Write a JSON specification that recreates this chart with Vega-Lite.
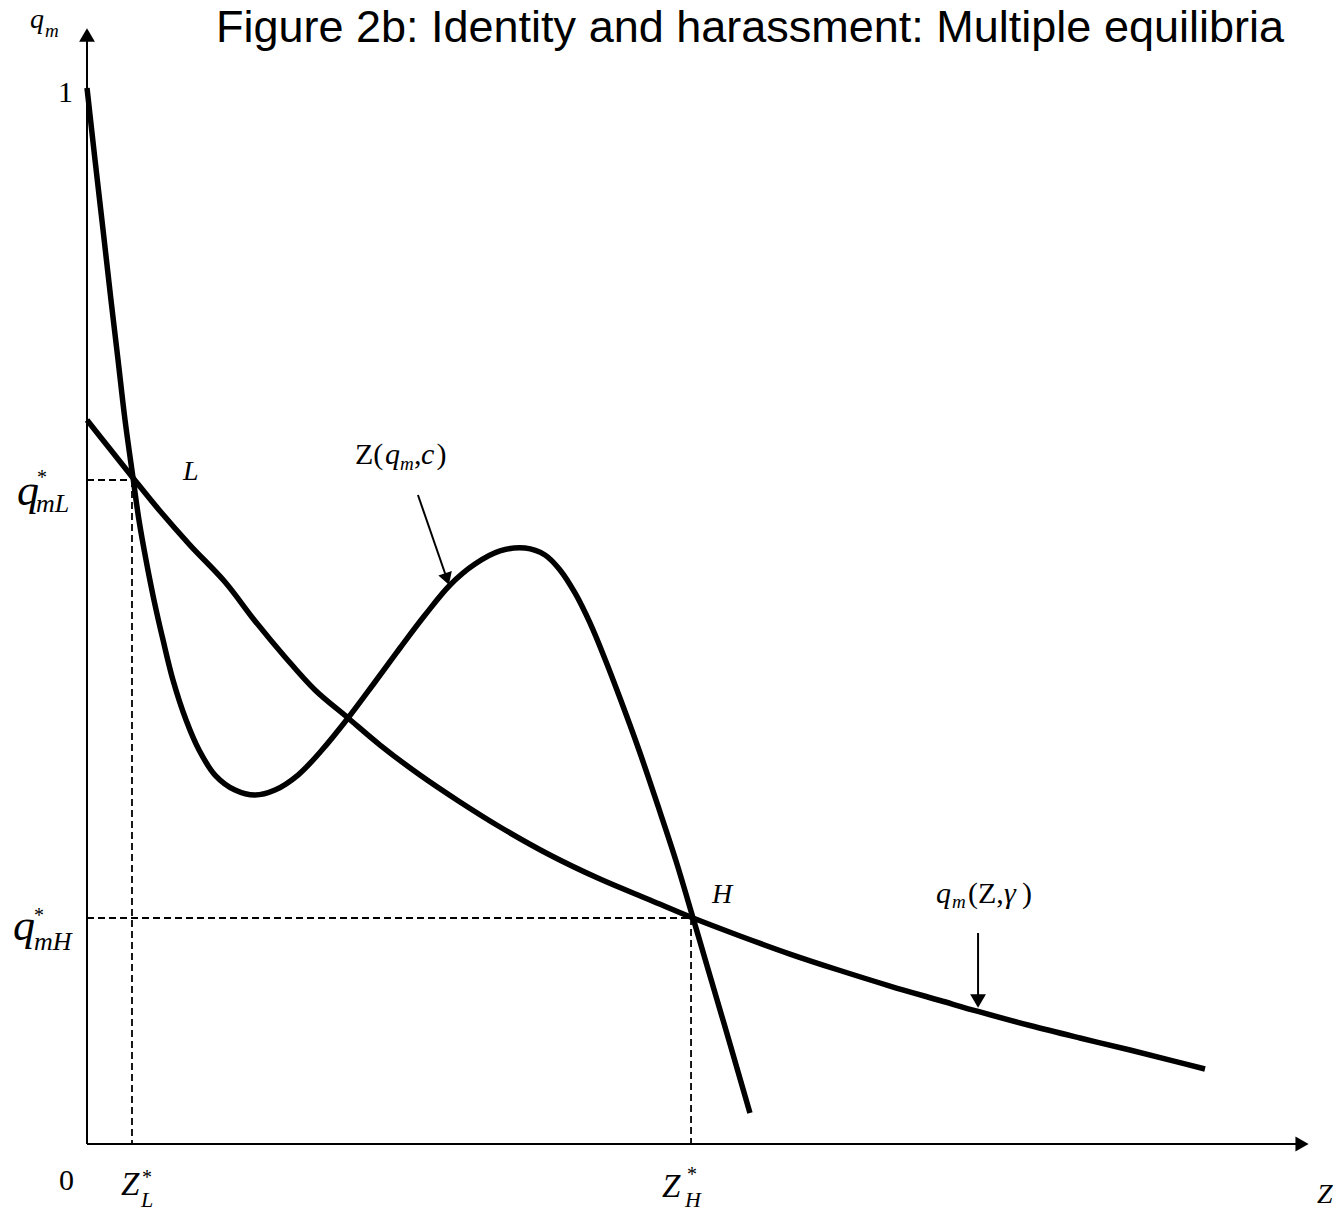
{
  "$schema": "https://vega.github.io/schema/vega-lite/v6.json",
  "width": 1338,
  "height": 1212,
  "autosize": "none",
  "padding": 0,
  "background": "white",
  "config": {"view": {"stroke": null}},
  "datasets": {
    "curves": [
      {"c":"Z","x":0,"y":1.0},{"c":"Z","x":0.0076,"y":0.9318},{"c":"Z","x":0.0152,"y":0.8655},{"c":"Z","x":0.0227,"y":0.7992},{"c":"Z","x":0.0294,"y":0.7424},{"c":"Z","x":0.0360,"y":0.6856},{"c":"Z","x":0.0436,"y":0.6307},{"c":"Z","x":0.0492,"y":0.5909},{"c":"Z","x":0.0559,"y":0.5530},{"c":"Z","x":0.0634,"y":0.5152},{"c":"Z","x":0.0720,"y":0.4773},{"c":"Z","x":0.0814,"y":0.4394},{"c":"Z","x":0.0938,"y":0.4015},{"c":"Z","x":0.1061,"y":0.3731},{"c":"Z","x":0.1212,"y":0.3494},{"c":"Z","x":0.1402,"y":0.3352},{"c":"Z","x":0.1591,"y":0.3305},{"c":"Z","x":0.1780,"y":0.3352},{"c":"Z","x":0.1998,"y":0.3494},{"c":"Z","x":0.2225,"y":0.3731},{"c":"Z","x":0.2472,"y":0.4034},{"c":"Z","x":0.2727,"y":0.4375},{"c":"Z","x":0.2964,"y":0.4697},{"c":"Z","x":0.3201,"y":0.5009},{"c":"Z","x":0.3438,"y":0.5294},{"c":"Z","x":0.3674,"y":0.5492},{"c":"Z","x":0.3911,"y":0.5616},{"c":"Z","x":0.4148,"y":0.5644},{"c":"Z","x":0.4337,"y":0.5578},{"c":"Z","x":0.4479,"y":0.5436},{"c":"Z","x":0.4621,"y":0.5218},{"c":"Z","x":0.4763,"y":0.4934},{"c":"Z","x":0.4905,"y":0.4593},{"c":"Z","x":0.5047,"y":0.4223},{"c":"Z","x":0.5227,"y":0.3731},{"c":"Z","x":0.5407,"y":0.3201},{"c":"Z","x":0.5578,"y":0.2680},{"c":"Z","x":0.5739,"y":0.2140},{"c":"Z","x":0.5900,"y":0.1591},{"c":"Z","x":0.6089,"y":0.0947},{"c":"Z","x":0.6278,"y":0.0294},
      {"c":"Q","x":0,"y":0.6856},{"c":"Q","x":0.0218,"y":0.6581},{"c":"Q","x":0.0436,"y":0.6307},{"c":"Q","x":0.0691,"y":0.5994},{"c":"Q","x":0.0975,"y":0.5672},{"c":"Q","x":0.1307,"y":0.5322},{"c":"Q","x":0.1591,"y":0.4953},{"c":"Q","x":0.1875,"y":0.4612},{"c":"Q","x":0.2159,"y":0.4299},{"c":"Q","x":0.2472,"y":0.4034},{"c":"Q","x":0.2775,"y":0.3778},{"c":"Q","x":0.3153,"y":0.3494},{"c":"Q","x":0.3532,"y":0.3239},{"c":"Q","x":0.3911,"y":0.3002},{"c":"Q","x":0.4384,"y":0.2737},{"c":"Q","x":0.4858,"y":0.2509},{"c":"Q","x":0.5331,"y":0.2311},{"c":"Q","x":0.5739,"y":0.2140},{"c":"Q","x":0.6184,"y":0.1970},{"c":"Q","x":0.6657,"y":0.1799},{"c":"Q","x":0.7131,"y":0.1643},{"c":"Q","x":0.7604,"y":0.1496},{"c":"Q","x":0.8078,"y":0.1359},{"c":"Q","x":0.8438,"y":0.1255},{"c":"Q","x":0.8930,"y":0.1122},{"c":"Q","x":0.9403,"y":0.1004},{"c":"Q","x":0.9877,"y":0.0890},{"c":"Q","x":1.0256,"y":0.0795},{"c":"Q","x":1.0587,"y":0.0710}
    ],
    "axes": [{"x":0,"y":0,"x2":0,"y2":1.0455},{"x":0,"y":0,"x2":1.1487,"y2":0}],
    "dashes": [{"x":0,"y":0.6288,"x2":0.0426,"y2":0.6288},{"x":0.0426,"y":0.6288,"x2":0.0426,"y2":0},{"x":0,"y":0.2140,"x2":0.5720,"y2":0.2140},{"x":0.5720,"y":0.2140,"x2":0.5720,"y2":0}],
    "pointers": [{"x":0.3134,"y":0.6146,"x2":0.3409,"y2":0.5350},{"x":0.8438,"y":0.1998,"x2":0.8438,"y2":0.1364}],
    "headUp": [{"x":0,"y":1.0502}],
    "headRight": [{"x":1.1506,"y":0}],
    "headDown": [{"x":0.8438,"y":0.1354}],
    "headSlant": [{"x":0.3409,"y":0.5350}],
    "title": [{"t":"Figure 2b: Identity and harassment: Multiple equilibria","x":0.6278,"y":1.0440}],
    "roman": [{"t":"1","x":-0.0275,"y":0.9867},{"t":"0","x":-0.0265,"y":-0.0436},{"t":"Z(","x":0.2538,"y":0.6439},{"t":",","x":0.3097,"y":0.6439},{"t":")","x":0.3310,"y":0.6439},{"t":"(Z,","x":0.8343,"y":0.2282},{"t":")","x":0.8854,"y":0.2282}],
    "bigQ": [{"t":"q","x":-0.0663,"y":0.6051},{"t":"q","x":-0.0701,"y":0.1932}],
    "bigSub": [{"t":"mL","x":-0.0483,"y":0.5985},{"t":"mH","x":-0.0502,"y":0.1837}],
    "italic": [{"t":"q","x":-0.0540,"y":1.0568},{"t":"L","x":0.0909,"y":0.6288},{"t":"H","x":0.5919,"y":0.2282},{"t":"Z","x":1.1648,"y":-0.0559}],
    "labelItalic": [{"t":"q","x":0.2822,"y":0.6439},{"t":"c","x":0.3163,"y":0.6439},{"t":"q","x":0.8040,"y":0.2282},{"t":"γ","x":0.8684,"y":0.2282}],
    "zStar": [{"t":"Z","x":0.0322,"y":-0.0483},{"t":"Z","x":0.5445,"y":-0.0502}],
    "subs": [{"t":"m","x":-0.0398,"y":1.0483},{"t":"m","x":0.2964,"y":0.6383},{"t":"m","x":0.8191,"y":0.2235}],
    "zSubs": [{"t":"L","x":0.0511,"y":-0.0597},{"t":"H","x":0.5663,"y":-0.0597}],
    "stars": [{"t":"*","x":-0.0426,"y":0.6250},{"t":"*","x":-0.0455,"y":0.2102},{"t":"*","x":0.0568,"y":-0.0379},{"t":"*","x":0.5729,"y":-0.0350}]
  },
  "encoding": {
    "x": {"field":"x","type":"quantitative","scale":{"domain":[-0.08239,1.18466],"nice":false,"zero":false},"axis":null},
    "y": {"field":"y","type":"quantitative","scale":{"domain":[-0.06439,1.08333],"nice":false,"zero":false},"axis":null}
  },
  "layer": [
    {"data":{"name":"axes"},"mark":{"type":"rule","color":"black","strokeWidth":2},"encoding":{"x2":{"field":"x2"},"y2":{"field":"y2"}}},
    {"data":{"name":"dashes"},"mark":{"type":"rule","color":"black","strokeWidth":1.8,"strokeDash":[7,4]},"encoding":{"x2":{"field":"x2"},"y2":{"field":"y2"}}},
    {"data":{"name":"pointers"},"mark":{"type":"rule","color":"black","strokeWidth":2},"encoding":{"x2":{"field":"x2"},"y2":{"field":"y2"}}},
    {"data":{"name":"curves"},"mark":{"type":"line","color":"black","strokeWidth":5.5,"interpolate":"catmull-rom","strokeCap":"butt"},"encoding":{"detail":{"field":"c"}}},
    {"data":{"name":"headUp"},"mark":{"type":"point","shape":"triangle-up","filled":true,"color":"black","opacity":1,"size":250}},
    {"data":{"name":"headRight"},"mark":{"type":"point","shape":"triangle-right","filled":true,"color":"black","opacity":1,"size":230}},
    {"data":{"name":"headDown"},"mark":{"type":"point","shape":"triangle-down","filled":true,"color":"black","opacity":1,"size":250}},
    {"data":{"name":"headSlant"},"mark":{"type":"point","shape":"triangle-down","filled":true,"color":"black","opacity":1,"size":200,"angle":342}},
    {"data":{"name":"title"},"mark":{"type":"text","font":"Liberation Sans","fontSize":45,"align":"center","baseline":"alphabetic","color":"black"},"encoding":{"text":{"field":"t"}}},
    {"data":{"name":"roman"},"mark":{"type":"text","font":"Liberation Serif","fontSize":30,"align":"left","baseline":"alphabetic","color":"black"},"encoding":{"text":{"field":"t"}}},
    {"data":{"name":"bigQ"},"mark":{"type":"text","font":"Liberation Serif","fontStyle":"italic","fontSize":44,"align":"left","baseline":"alphabetic","color":"black"},"encoding":{"text":{"field":"t"}}},
    {"data":{"name":"bigSub"},"mark":{"type":"text","font":"Liberation Serif","fontStyle":"italic","fontSize":26,"align":"left","baseline":"alphabetic","color":"black"},"encoding":{"text":{"field":"t"}}},
    {"data":{"name":"italic"},"mark":{"type":"text","font":"Liberation Serif","fontStyle":"italic","fontSize":28,"align":"left","baseline":"alphabetic","color":"black"},"encoding":{"text":{"field":"t"}}},
    {"data":{"name":"labelItalic"},"mark":{"type":"text","font":"Liberation Serif","fontStyle":"italic","fontSize":30,"align":"left","baseline":"alphabetic","color":"black"},"encoding":{"text":{"field":"t"}}},
    {"data":{"name":"zStar"},"mark":{"type":"text","font":"Liberation Serif","fontStyle":"italic","fontSize":33,"align":"left","baseline":"alphabetic","color":"black"},"encoding":{"text":{"field":"t"}}},
    {"data":{"name":"subs"},"mark":{"type":"text","font":"Liberation Serif","fontStyle":"italic","fontSize":19,"align":"left","baseline":"alphabetic","color":"black"},"encoding":{"text":{"field":"t"}}},
    {"data":{"name":"zSubs"},"mark":{"type":"text","font":"Liberation Serif","fontStyle":"italic","fontSize":22,"align":"left","baseline":"alphabetic","color":"black"},"encoding":{"text":{"field":"t"}}},
    {"data":{"name":"stars"},"mark":{"type":"text","font":"Liberation Serif","fontSize":20,"align":"center","baseline":"alphabetic","color":"black"},"encoding":{"text":{"field":"t"}}}
  ]
}
